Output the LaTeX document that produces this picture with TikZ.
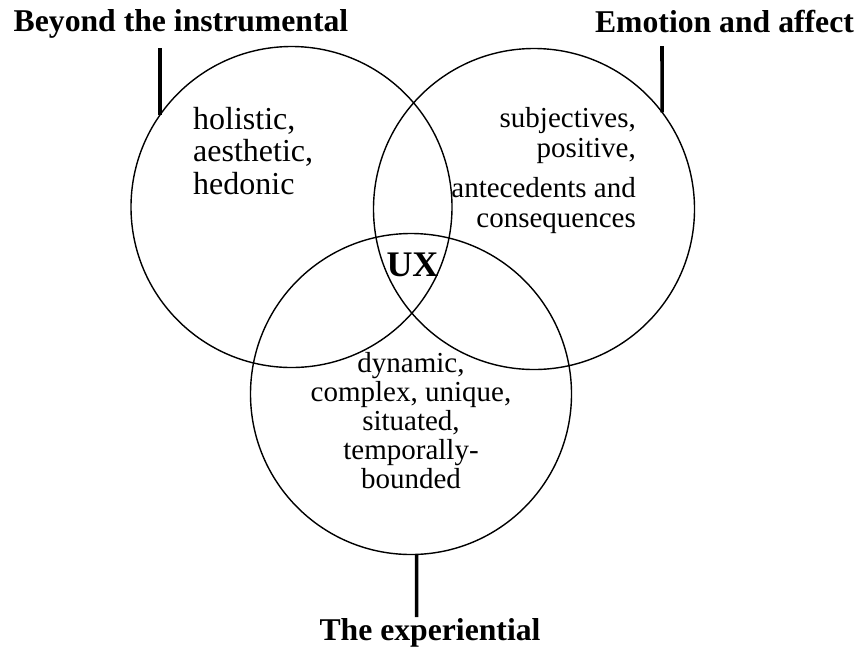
\documentclass[tikz,border=0pt]{standalone}
\usepackage{fontspec}
\setmainfont{Liberation Serif}
\begin{document}
\begin{tikzpicture}[x=1pt,y=-1pt,
  ring/.style={circle,draw=black,line width=1.4pt,minimum size=321pt,inner sep=0pt,outer sep=0pt},
  title/.style={font=\fontsize{31.7}{33}\selectfont\bfseries,inner sep=0pt,anchor=base},
  body/.style={inner sep=0pt,anchor=base},
  tick/.style={line width=3.6pt,black}]
  \useasboundingbox (0,0) rectangle (859,649);

  % the three overlapping circles
  \node[ring] (c1) at (291.5,207) {};
  \node[ring] (c2) at (534,209) {};
  \node[ring] (c3) at (411,394) {};

  % headings
  \node[title] (h1) at (181,31) {Beyond the instrumental};
  \node[title] (h2) at (724.5,32) {Emotion and affect};
  \node[title] (h3) at (430,640) {The experiential};

  % short bars tying each heading to its circle
  \coordinate (b1) at (160,48);
  \coordinate (b2) at (662,46);
  \coordinate (b3) at (416.6,617);
  \draw[tick] (b1) -- (c1.145);
  \draw[tick] (b2) -- (c2.37.4);
  \draw[tick] (b3) -- (c3.-88);

  % circle contents (anchored at the baseline of the last line)
  \node[body,anchor=base west,align=left,font=\fontsize{32}{32.5}\selectfont] (l1) at (193,194)
    {holistic,\\aesthetic,\\hedonic};
  \node[body,anchor=base east,align=right,font=\fontsize{29}{30}\selectfont] (l2) at (636,227)
    {subjectives,\\positive,\\[10pt]antecedents and\\consequences};
  \node[body,align=center,font=\fontsize{29}{29}\selectfont] (l3) at (411,488)
    {dynamic,\\complex, unique,\\situated,\\temporally-\\bounded};

  % centre
  \node[body,font=\fontsize{36}{37}\selectfont\bfseries] (ux) at (412.5,276) {UX};
\end{tikzpicture}
\end{document}
